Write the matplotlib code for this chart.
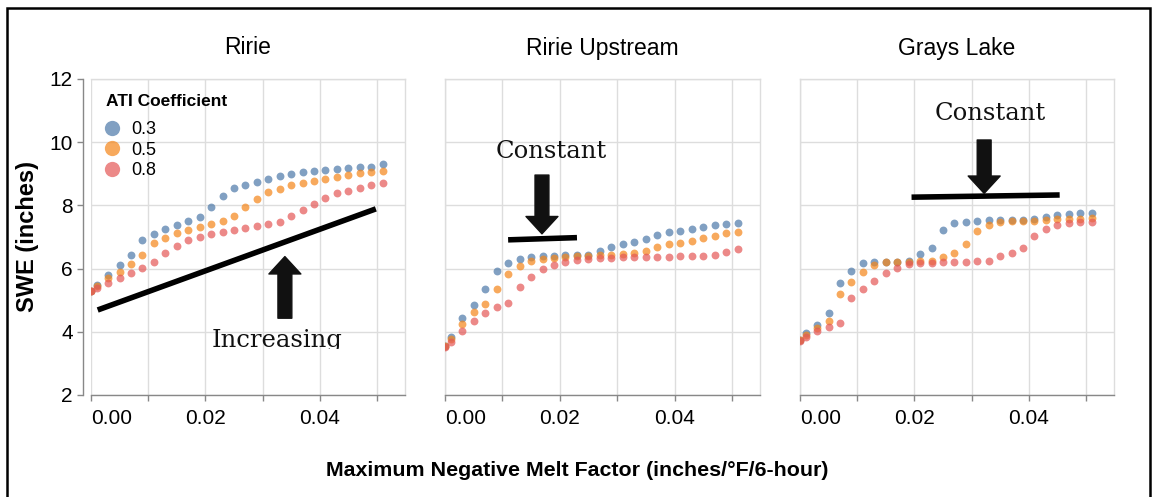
import matplotlib
matplotlib.use('Agg')
import matplotlib.pyplot as plt
from matplotlib.lines import Line2D
from matplotlib.patches import Rectangle
from matplotlib.transforms import Bbox, TransformedBbox

plt.rcParams['font.family'] = ['Liberation Sans', 'DejaVu Sans']

# ---------------- data ----------------
melt_factor = [0.000, 0.001, 0.003, 0.005, 0.007, 0.009, 0.011, 0.013, 0.015,
               0.017, 0.019, 0.021, 0.023, 0.025, 0.027, 0.029, 0.031, 0.033,
               0.035, 0.037, 0.039, 0.041, 0.043, 0.045, 0.047, 0.049, 0.051]

coefficients = ['0.3', '0.5', '0.8']
sites = ['Ririe', 'Ririe Upstream', 'Grays Lake']

ririe_03 = [5.30, 5.48, 5.80, 6.12, 6.44, 6.89, 7.09, 7.26, 7.39, 7.51, 7.62, 7.95, 8.30, 8.55,
            8.66, 8.74, 8.85, 8.93, 9.00, 9.06, 9.09, 9.12, 9.16, 9.19, 9.23, 9.23, 9.30]
ririe_05 = [5.30, 5.45, 5.69, 5.90, 6.15, 6.43, 6.80, 6.98, 7.12, 7.22, 7.31, 7.40, 7.50, 7.66,
            7.96, 8.19, 8.41, 8.53, 8.66, 8.72, 8.78, 8.85, 8.91, 8.95, 9.01, 9.07, 9.09]
ririe_08 = [5.29, 5.40, 5.55, 5.71, 5.87, 6.02, 6.20, 6.48, 6.73, 6.89, 7.01, 7.09, 7.16, 7.22,
            7.27, 7.35, 7.41, 7.46, 7.66, 7.85, 8.04, 8.23, 8.38, 8.47, 8.56, 8.65, 8.72]

upstream_03 = [3.55, 3.82, 4.45, 4.85, 5.34, 5.92, 6.17, 6.29, 6.36, 6.40, 6.41, 6.42, 6.43, 6.44,
               6.57, 6.69, 6.79, 6.85, 6.95, 7.05, 7.15, 7.20, 7.25, 7.33, 7.37, 7.41, 7.44]
upstream_05 = [3.55, 3.76, 4.25, 4.62, 4.87, 5.34, 5.82, 6.08, 6.23, 6.29, 6.35, 6.38, 6.40, 6.41,
               6.43, 6.43, 6.46, 6.48, 6.57, 6.67, 6.77, 6.80, 6.87, 6.96, 7.03, 7.12, 7.17]
upstream_08 = [3.53, 3.69, 4.04, 4.35, 4.58, 4.77, 4.90, 5.41, 5.74, 5.99, 6.12, 6.21, 6.27, 6.30,
               6.32, 6.35, 6.38, 6.38, 6.38, 6.38, 6.38, 6.40, 6.40, 6.41, 6.43, 6.54, 6.62]

grays_03 = [3.74, 3.95, 4.22, 4.61, 5.53, 5.93, 6.17, 6.21, 6.21, 6.22, 6.24, 6.45, 6.64, 7.22,
            7.43, 7.49, 7.51, 7.54, 7.54, 7.54, 7.54, 7.58, 7.63, 7.70, 7.73, 7.75, 7.75]
grays_05 = [3.74, 3.90, 4.11, 4.34, 5.19, 5.57, 5.88, 6.10, 6.20, 6.21, 6.22, 6.23, 6.25, 6.38,
            6.48, 6.78, 7.20, 7.38, 7.49, 7.50, 7.51, 7.52, 7.54, 7.56, 7.57, 7.58, 7.60]
grays_08 = [3.71, 3.85, 4.01, 4.14, 4.29, 5.08, 5.35, 5.62, 5.85, 6.03, 6.14, 6.18, 6.19, 6.21,
            6.22, 6.22, 6.23, 6.25, 6.41, 6.48, 6.64, 7.04, 7.25, 7.38, 7.43, 7.46, 7.46]

swe = {
    'Ririe': [ririe_03, ririe_05, ririe_08],
    'Ririe Upstream': [upstream_03, upstream_05, upstream_08],
    'Grays Lake': [grays_03, grays_05, grays_08],
}

x_ticks = [0.00, 0.01, 0.02, 0.03, 0.04, 0.05]
x_tick_labels = ['0.00', '', '0.02', '', '0.04', '']
y_ticks = [2, 4, 6, 8, 10, 12]

# ---------------- styling ----------------
colors = ['#4c78a8', '#f58518', '#e45756']
W, H = 1154, 497
fig = plt.figure(figsize=(W / 100, H / 100), dpi=100)

panel_px = [(91, 405), (445, 760), (800, 1114)]
top_px, bottom_px = 79, 395
ph = bottom_px - top_px

# annotations: (line start, line end), (arrow tail, arrow tip), (text, x, y baseline)
annotations = [
    (((0.00117, 4.69), (0.0498, 7.89)), ((0.0339, 4.43), (0.0339, 6.38)), ('Increasing', 0.0325, 3.53)),
    (((0.0110, 6.91), (0.0230, 6.98)), ((0.0169, 8.96), (0.0169, 7.10)), ('Constant', 0.0186, 9.49)),
    (((0.0195, 8.26), (0.0454, 8.33)), ((0.0322, 10.07), (0.0322, 8.38)), ('Constant', 0.0332, 10.70)),
]

axes = []
for i, site in enumerate(sites):
    l, r = panel_px[i]
    ax = fig.add_axes([l / W, 1 - bottom_px / H, (r - l) / W, ph / H])
    axes.append(ax)
    ax.set_xlim(0, 0.0549)
    ax.set_ylim(2, 12)
    ax.set_xticks(x_ticks)
    ax.set_xticklabels(x_tick_labels)
    ax.get_xticklabels()[0].set_horizontalalignment('left')
    ax.set_yticks(y_ticks)
    ax.grid(True, color='#dddddd', linewidth=1)
    ax.set_axisbelow(True)
    for s in ['top', 'right', 'left']:
        ax.spines[s].set_color('#dddddd')
        ax.spines[s].set_linewidth(1)
    ax.spines['bottom'].set_color('#888888')
    ax.spines['bottom'].set_linewidth(1)
    ax.tick_params(axis='x', direction='out', length=4, width=1, color='#888888',
                   labelsize=15, pad=6, labelcolor='black')
    if i == 0:
        ax.spines['left'].set_color('#888888')
        ax.spines['left'].set_position(('outward', 6))
        ax.tick_params(axis='y', direction='out', length=4, width=1, color='#888888',
                       labelsize=15, pad=3, labelcolor='black')
    else:
        ax.tick_params(axis='y', left=False, labelleft=False)

    for j, coef in enumerate(coefficients):
        ax.scatter(melt_factor, swe[site][j], s=32, color=colors[j], alpha=0.7,
                   linewidths=0, zorder=3 + j)

    ax.text(0.5, 1 + 31 / ph, site, transform=ax.transAxes,
            ha='center', va='center', fontsize=16.5)

    (p1, p2), (tail, tip), (label, tx, ty) = annotations[i]
    ax.plot([p1[0], p2[0]], [p1[1], p2[1]], color='black', linewidth=4,
            solid_capstyle='butt', zorder=10)
    ax.annotate('', xy=tip, xytext=tail,
                arrowprops=dict(arrowstyle='simple,head_width=2.3,head_length=1.25,tail_width=1.0',
                                mutation_scale=10, color='#111111', shrinkA=0, shrinkB=0),
                zorder=10)
    t = ax.text(tx, ty, label, family='DejaVu Serif', fontsize=17.5, ha='center',
                va='baseline', color='#111111', zorder=10)
    if i == 0:
        t.set_clip_box(TransformedBbox(Bbox([[0, 3.46], [0.0549, 12]]), ax.transData))
        t.set_clip_on(True)

# legend in first panel
ax0 = axes[0]
ax0.text((106 - 91) / 314, 1 - (102 - 79) / ph, 'ATI Coefficient', transform=ax0.transAxes,
         ha='left', va='center', fontsize=12.5, fontweight='bold')
handles = [Line2D([], [], marker='o', linestyle='none', markersize=11, alpha=0.7,
                  markerfacecolor=c, markeredgewidth=0) for c in colors]
leg = ax0.legend(handles, coefficients, loc='upper left',
                 bbox_to_anchor=((104 - 91) / 314, 1 - (121 - 79) / ph), frameon=False,
                 fontsize=13, handlelength=0.85, handletextpad=0.64, labelspacing=0.2,
                 borderpad=0, borderaxespad=0)

fig.text(28 / W, 1 - 237 / H, 'SWE (inches)', rotation=90, ha='center', va='center',
         fontsize=17, fontweight='bold')
fig.text(577 / W, 1 - 470 / H, 'Maximum Negative Melt Factor (inches/°F/6-hour)',
         ha='center', va='center', fontsize=15.4, fontweight='bold')

fig.patches.append(Rectangle((7 / W, -0.1), (1150 - 7) / W, 1.1 - 8 / H,
                             transform=fig.transFigure, fill=False, edgecolor='black',
                             linewidth=1.8, figure=fig))

fig.savefig('out.png', dpi=100)
